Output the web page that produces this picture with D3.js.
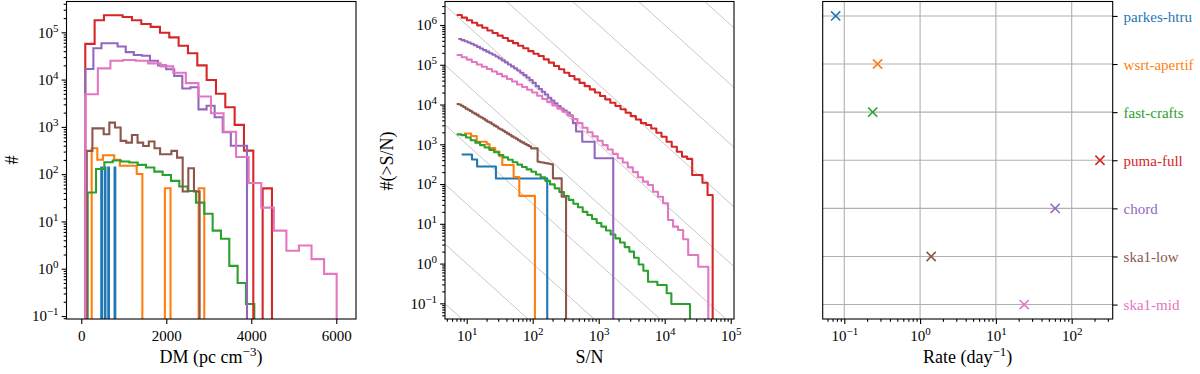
<!DOCTYPE html>
<html>
<head>
<meta charset="utf-8">
<script src="https://cdn.jsdelivr.net/npm/d3@7"></script>
<style>
  body { margin: 0; background: #fff; }
  svg { display: block; }
</style>
</head>
<body>
<svg id="chart" width="1200" height="374"></svg>
<script>
const surveys = ["parkes-htru", "wsrt-apertif", "fast-crafts", "puma-full", "chord", "ska1-low", "ska1-mid"];
const colors = ["#1f77b4", "#ff7f0e", "#2ca02c", "#d62728", "#9467bd", "#8c564b", "#e377c2"];

// DM histograms: first and last bin edge (pc cm^-3), 20 weighted counts each
const dmLo = [470, 245, 150, 94, 94, 129, 94];
const dmHi = [800, 2894, 4071, 4487, 3899, 2784, 6009];
const dmParkes = [138, 0, 0, 0, 0, 138, 0, 0, 0, 0, 138, 0, 0, 0, 0, 0, 0, 0, 0, 138];
const dmApertif = [353, 202, 252, 252, 202, 151, 151, 151, 101, 0, 0, 0, 0, 50.4, 0, 0, 0, 0, 0, 50.4];
const dmCrafts = [41, 129, 178, 194, 185, 176, 157, 138, 113, 96, 72, 55, 44, 25, 14.5, 6.4, 4.3, 1.15, 0.5, 0.18];
const dmPuma = [5.7e4, 1.8e5, 2.3e5, 2.3e5, 2.1e5, 1.8e5, 1.5e5, 1.3e5, 9.8e4, 7.8e4, 5.2e4, 3.6e4, 2.0e4, 9.8e3, 5.0e3, 2.6e3, 1.1e3, 315, 0, 50];
const dmChord = [1.68e4, 4.6e4, 5.85e4, 5.85e4, 5.0e4, 3.8e4, 3.3e4, 3.2e4, 2.5e4, 2.0e4, 1.65e4, 1.2e4, 6.5e3, 6.9e3, 2.35e3, 2.8e3, 1.6e3, 770, 400, 400];
const dmSkaLow = [310, 930, 930, 700, 1230, 970, 505, 465, 675, 465, 395, 490, 353, 264, 264, 310, 224, 43, 133, 43];
const dmSkaMid = [4.9e3, 1.73e4, 2.5e4, 2.6e4, 2.5e4, 2.2e4, 1.9e4, 1.4e4, 8.4e3, 4.4e3, 1.94e3, 790, 230, 65, 19.6, 6.4, 2.4, 3.1, 1.6, 0.78];

// cumulative counts N(>S/N): 50 log-spaced bins between snrLo and snrHi
const snrLo = [8.4, 9.1, 7.05, 7.05, 7.46, 7.05, 7.05];
const snrHi = [166, 108, 2.42e4, 5.33e4, 1660, 320, 4.58e4];
const cumParkes = [552, 552, 552, 552, 552, 552, 414, 414, 414, 276, 276, 276, 276, 276, 276, 276, 276, 276, 276, 276,
  138, 138, 138, 138, 138, 138, 138, 138, 138, 138, 138, 138, 138, 138, 138, 138, 138, 138, 138, 138,
  138, 138, 138, 138, 138, 138, 138, 138, 138, 138];
const cumApertif = [1864, 1864, 1864, 1864, 1864, 1612, 1612, 1612, 1612, 1159, 1159, 1159, 1159, 1159, 1159, 1159,
  1008, 1008, 806, 806, 806, 806, 655, 655, 655, 504, 504, 302, 302, 302, 302, 302, 302, 302, 302,
  151, 151, 151, 151, 50.4, 50.4, 50.4, 50.4, 50.4, 50.4, 50.4, 50.4, 50.4, 50.4, 50.4];
const cumCrafts = [1780, 1700, 1480, 1260, 1100, 955, 830, 725, 630, 537, 468, 407, 355, 309, 269, 234, 204, 174, 148, 120,
  98, 78, 63, 50, 40, 32, 26, 20, 16.6, 13.2, 10.5, 8.5, 6.8, 5.4, 4.3, 3.4, 2.6, 2.0, 1.4, 0.95,
  0.66, 0.35, 0.35, 0.29, 0.29, 0.18, 0.096, 0.096, 0.096, 0.096];
const cumPuma = [1.78e6, 1.53e6, 1.32e6, 1.14e6, 9.8e5, 8.5e5, 7.3e5, 6.3e5, 5.4e5, 4.7e5, 4.0e5, 3.5e5, 3.0e5, 2.6e5,
  2.2e5, 1.9e5, 1.66e5, 1.37e5, 1.13e5, 9.3e4, 7.7e4, 6.3e4, 5.2e4, 4.3e4, 3.5e4, 2.9e4, 2.4e4, 2.0e4, 1.64e4,
  1.35e4, 1.11e4, 9.2e3, 7.6e3, 6.2e3, 5.1e3, 4.2e3, 3.4e3, 3.05e3, 2.5e3, 1.95e3, 1.55e3, 1.16e3, 870, 650,
  490, 430, 169, 169, 108, 53];
const cumChord = [4.45e5, 4.17e5, 3.89e5, 3.63e5, 3.39e5, 3.09e5, 2.82e5, 2.57e5, 2.34e5, 2.14e5, 1.95e5, 1.78e5,
  1.62e5, 1.45e5, 1.29e5, 1.15e5, 1.02e5, 9.1e4, 8.1e4, 7.2e4, 6.3e4, 5.5e4, 4.8e4, 4.1e4, 3.5e4, 2.9e4, 2.45e4,
  2.1e4, 1.78e4, 1.48e4, 1.26e4, 1.07e4, 9.1e3, 7.9e3, 7.1e3, 6.3e3, 5.2e3, 3.4e3, 2.1e3, 2.1e3,
  1160, 1160, 1160, 1160, 444, 444, 444, 444, 444, 444];
const cumSkaLow = [1.03e4, 1.0e4, 9.3e3, 8.7e3, 7.9e3, 7.4e3, 6.9e3, 6.3e3, 5.9e3, 5.5e3, 5.0e3, 4.7e3, 4.4e3, 4.0e3,
  3.7e3, 3.5e3, 3.2e3, 2.95e3, 2.75e3, 2.5e3, 2.35e3, 2.2e3, 2.0e3, 1.86e3, 1.74e3, 1.58e3, 1.48e3, 1.38e3,
  1.26e3, 1.17e3, 1.1e3, 1.02e3, 955, 890, 790, 790, 790, 365, 355, 347, 339, 331, 324, 316,
  139, 139, 139, 139, 48, 48];
const cumSkaMid = [1.76e5, 1.55e5, 1.35e5, 1.17e5, 1.02e5, 8.9e4, 7.8e4, 6.8e4, 5.9e4, 5.1e4, 4.4e4, 3.8e4, 3.2e4,
  2.75e4, 2.35e4, 2.0e4, 1.66e4, 1.38e4, 1.15e4, 9.5e3, 7.9e3, 6.6e3, 5.4e3, 4.3e3, 3.4e3, 2.6e3, 2.0e3,
  1.58e3, 1.23e3, 955, 740, 575, 447, 347, 263, 200, 148, 115, 95, 64, 48, 33, 12.5, 8.5, 7.0, 4.1,
  1.64, 1.64, 0.83, 0.83];

// detection rate per survey (day^-1)
const rates = [0.077, 0.275, 0.237, 236, 60.5, 1.40, 23.6];

const dmSeries = [dmParkes, dmApertif, dmCrafts, dmPuma, dmChord, dmSkaLow, dmSkaMid];
const cumSeries = [cumParkes, cumApertif, cumCrafts, cumPuma, cumChord, cumSkaLow, cumSkaMid];

const FONT = "'Liberation Serif', 'Times New Roman', serif";
const TOP = 1.5, BOTTOM = 319;
const FLOOR = 1e-4; // zero counts drop below the axes

const svg = d3.select("#chart").attr("font-family", FONT);

const x1 = d3.scaleLinear().domain([-348, 6464]).range([66.5, 356]);
const y1 = d3.scaleLog().domain([0.0865, 4.48e5]).range([BOTTOM, TOP]);
const x2 = d3.scaleLog().domain([4.69, 1.122e5]).range([445, 734]);
const y2 = d3.scaleLog().domain([0.0404, 3.9e6]).range([BOTTOM, TOP]);
const x3 = d3.scaleLog().domain([0.0519, 347.5]).range([822.7, 1112.7]);
const y3 = d3.scaleLinear().domain([-0.3, 6.3]).range([TOP, BOTTOM]);

function logMajor(scale) {
    const [a, b] = scale.domain();
    const out = [];
    for (let k = Math.ceil(Math.log10(a)); k <= Math.floor(Math.log10(b)); k++) out.push(10 ** k);
    return out;
}
function logMinor(scale) {
    const [a, b] = scale.domain();
    const out = [];
    for (let k = Math.floor(Math.log10(a)); k <= Math.ceil(Math.log10(b)); k++) {
        for (let m = 2; m <= 9; m++) {
            const v = m * 10 ** k;
            if (v >= a && v <= b) out.push(v);
        }
    }
    return out;
}
function pow10Label(sel, d) {
    const k = Math.round(Math.log10(d));
    sel.text(null);
    sel.append("tspan").text("10");
    sel.append("tspan").attr("dy", -6).attr("font-size", 11)
        .text(k < 0 ? "\u2212" + (-k) : String(k));
}
function tidy(g) {
    g.attr("font-family", FONT).attr("font-size", 15);
    g.select(".domain").remove();
    g.selectAll(".tick line").attr("stroke", "#000").attr("stroke-width", 1.1);
    g.selectAll(".tick text").attr("fill", "#000");
}
function addTicks(orient, scale, tx, ty, majors, minors, label, pad) {
    if (minors.length) {
        svg.append("g").attr("transform", `translate(${tx},${ty})`)
            .call(orient(scale).tickValues(minors).tickSize(2.8).tickFormat(() => ""))
            .call(tidy);
    }
    const g = svg.append("g").attr("transform", `translate(${tx},${ty})`)
        .call(orient(scale).tickValues(majors).tickSize(4.9).tickPadding(pad).tickFormat(() => ""))
        .call(tidy);
    g.selectAll(".tick text").each(function (d, i) { label(d3.select(this), d, i); });
    return g;
}
function clipRect(id, xs) {
    svg.append("clipPath").attr("id", id).append("rect")
        .attr("x", xs.range()[0]).attr("y", TOP)
        .attr("width", xs.range()[1] - xs.range()[0]).attr("height", BOTTOM - TOP);
}
function frame(xs) {
    svg.append("rect")
        .attr("x", xs.range()[0]).attr("y", TOP)
        .attr("width", xs.range()[1] - xs.range()[0]).attr("height", BOTTOM - TOP)
        .attr("fill", "none").attr("stroke", "#000").attr("stroke-width", 1.1);
}
function axisLabel(x, y, parts, rotate) {
    const t = svg.append("text").attr("font-size", 18).attr("text-anchor", "middle")
        .attr("transform", `translate(${x},${y})` + (rotate ? " rotate(-90)" : ""));
    parts.forEach(p => {
        const s = t.append("tspan").text(p.t);
        if (p.sup) s.attr("dy", -7).attr("font-size", 13);
        if (p.down) s.attr("dy", 7);
    });
}

// ---------- panel 1: DM histograms ----------
clipRect("clip1", x1);
const g1 = svg.append("g").attr("clip-path", "url(#clip1)");
dmSeries.forEach((counts, s) => {
    const w = (dmHi[s] - dmLo[s]) / counts.length;
    const pts = [[dmLo[s], 0]];
    counts.forEach((c, i) => {
        pts.push([dmLo[s] + i * w, c]);
        pts.push([dmLo[s] + (i + 1) * w, c]);
    });
    pts.push([dmHi[s], 0]);
    g1.append("path")
        .attr("d", d3.line().x(p => x1(p[0])).y(p => y1(Math.max(p[1], FLOOR)))(pts))
        .attr("fill", "none")
        .attr("stroke", colors[s])
        .attr("stroke-width", 2.1)
        .attr("stroke-linejoin", "miter");
});
frame(x1);
addTicks(d3.axisLeft, y1, 66.5, 0, logMajor(y1), logMinor(y1), pow10Label, 3);
addTicks(d3.axisBottom, x1, 0, BOTTOM, [0, 2000, 4000, 6000], [], (sel, d) => sel.text(d), 6);
axisLabel(18, 160, [{ t: "#" }], true);
axisLabel(211, 363, [{ t: "DM (pc cm" }, { t: "\u22123", sup: true }, { t: ")", down: true }]);

// ---------- panel 2: cumulative S/N ----------
clipRect("clip2", x2);
const g2 = svg.append("g").attr("clip-path", "url(#clip2)");
// Euclidean reference lines N ∝ (S/N)^-1.5
for (let k = -2; k <= 11; k++) {
    const ref = [10 ** 0.5, 10 ** 5.3].map(sn => [sn, 10 ** (1.5 * k) * sn ** -1.5]);
    g2.append("path")
        .attr("d", d3.line().x(p => x2(p[0])).y(p => y2(p[1]))(ref))
        .attr("stroke", "#000").attr("stroke-opacity", 0.28).attr("stroke-width", 0.8)
        .attr("fill", "none");
}
cumSeries.forEach((counts, s) => {
    const n = counts.length;
    const edge = i => snrLo[s] * (snrHi[s] / snrLo[s]) ** (i / n);
    const pts = [];
    counts.forEach((c, i) => {
        pts.push([edge(i), c]);
        pts.push([edge(i + 1), c]);
    });
    pts.push([snrHi[s], 0]);
    g2.append("path")
        .attr("d", d3.line().x(p => x2(p[0])).y(p => y2(Math.max(p[1], FLOOR)))(pts))
        .attr("fill", "none")
        .attr("stroke", colors[s])
        .attr("stroke-width", 2.1)
        .attr("stroke-linejoin", "round");
});
frame(x2);
addTicks(d3.axisLeft, y2, 445, 0, logMajor(y2), logMinor(y2), pow10Label, 3);
addTicks(d3.axisBottom, x2, 0, BOTTOM, logMajor(x2), logMinor(x2), pow10Label, 6);
axisLabel(393, 161, [{ t: "#(>S/N)" }], true);
axisLabel(589.5, 363, [{ t: "S/N" }]);

// ---------- panel 3: rates ----------
const g3 = svg.append("g");
logMajor(x3).forEach(v => {
    g3.append("line").attr("x1", x3(v)).attr("x2", x3(v)).attr("y1", TOP).attr("y2", BOTTOM)
        .attr("stroke", "#b0b0b0").attr("stroke-width", 1.1);
});
surveys.forEach((name, i) => {
    g3.append("line").attr("x1", x3.range()[0]).attr("x2", x3.range()[1]).attr("y1", y3(i)).attr("y2", y3(i))
        .attr("stroke", "#b0b0b0").attr("stroke-width", 1.1);
});
rates.forEach((r, i) => {
    const cx = x3(r), cy = y3(i), h = 4.6;
    g3.append("path")
        .attr("d", `M${cx - h},${cy - h}L${cx + h},${cy + h}M${cx - h},${cy + h}L${cx + h},${cy - h}`)
        .attr("stroke", colors[i]).attr("stroke-width", 1.6).attr("fill", "none");
});
frame(x3);
addTicks(d3.axisBottom, x3, 0, BOTTOM, logMajor(x3), logMinor(x3), pow10Label, 6);
svg.append("g").attr("transform", `translate(${x3.range()[1]},0)`)
    .call(d3.axisRight(y3).tickValues(d3.range(surveys.length)).tickSize(4.9).tickPadding(6)
        .tickFormat(i => surveys[i]))
    .call(tidy)
    .selectAll(".tick text").attr("fill", (d, i) => colors[i]).attr("dy", "0.36em");
axisLabel(967.7, 363, [{ t: "Rate (day" }, { t: "\u22121", sup: true }, { t: ")", down: true }]);
</script>
</body>
</html>
